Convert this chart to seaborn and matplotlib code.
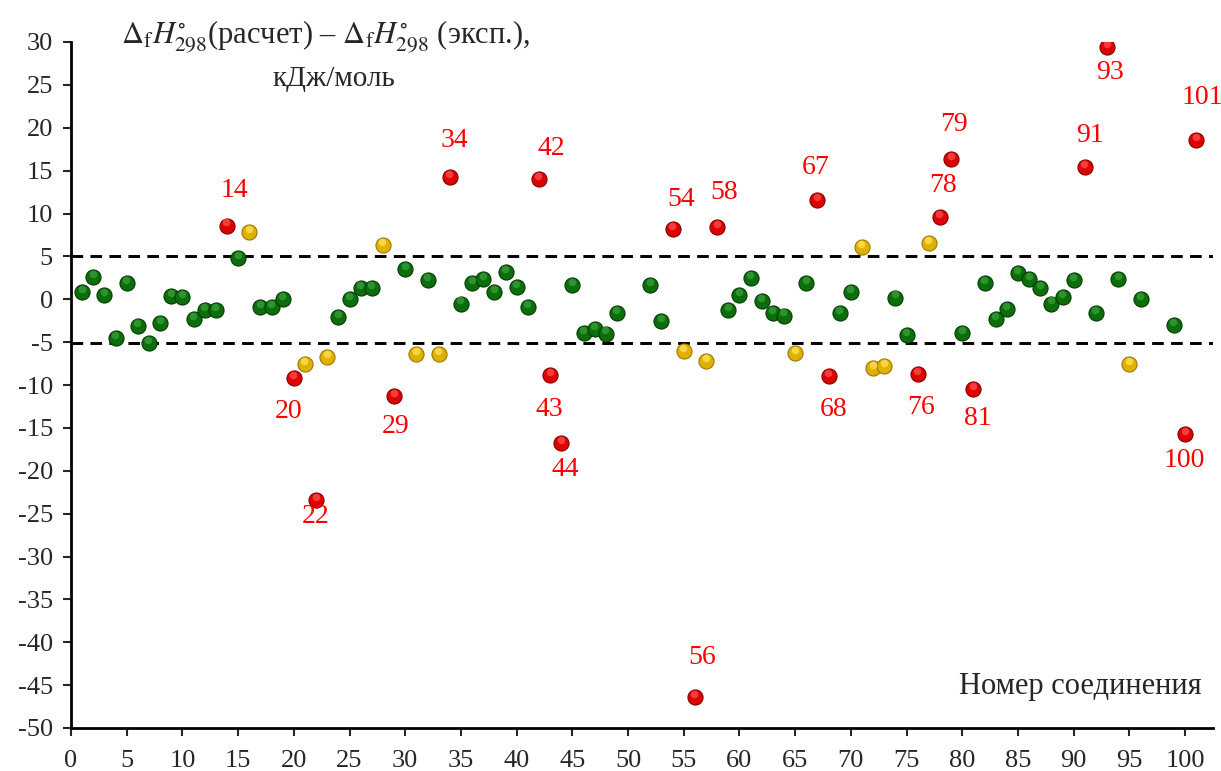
import numpy as np
import pandas as pd
import matplotlib.pyplot as plt
import matplotlib.transforms as mtransforms
import seaborn as sns

# номер соединения и отклонение расчёта от эксперимента, кДж/моль
compound = list(range(1, 50)) + list(range(52, 97)) + [99, 100, 101]
deviation = [
    0.8, 2.6, 0.5, -4.5, 1.9, -3.1, -5.1, -2.8, 0.4, 0.3,
    -2.3, -1.3, -1.3, 8.6, 4.8, 7.8, -0.9, -0.9, 0.0, -9.2,
    -7.5, -23.4, -6.7, -2.1, 0.0, 1.3, 1.3, 6.3, -11.3, 3.5,
    -6.4, 2.2, -6.4, 14.2, -0.5, 1.9, 2.4, 0.8, 3.2, 1.4,
    -0.9, 14.0, -8.8, -16.8, 1.7, -3.9, -3.5, -4.0, -1.6,
    1.7, -2.5, 8.2, -6.0, -46.4, -7.2, 8.4, -1.3, 0.5, 2.5,
    -0.2, -1.6, -1.9, -6.3, 1.9, 11.6, -8.9, -1.6, 0.8, 6.1,
    -8.0, -7.8, 0.2, -4.2, -8.7, 6.6, 9.6, 16.4, -3.9, -10.5,
    1.9, -2.3, -1.1, 3.1, 2.4, 1.3, -0.5, 0.3, 2.2, 15.4,
    -1.6, 29.4, 2.4, -7.5, 0.0,
    -3.0, -15.7, 18.6,
]
red_ids = [14, 20, 22, 29, 34, 42, 43, 44, 54, 56, 58, 67, 68, 76, 78, 79, 81, 91, 93, 100, 101]
yellow_ids = [16, 21, 23, 28, 31, 33, 55, 57, 65, 71, 72, 73, 77, 95]
yticks = list(range(-50, 31, 5))
xticks = list(range(0, 101, 5))

df = pd.DataFrame({'compound': compound, 'deviation': deviation})
df['group'] = np.where(df['compound'].isin(red_ids), 'red',
                       np.where(df['compound'].isin(yellow_ids), 'yellow', 'green'))

sns.set_style('white')
plt.rcParams['font.family'] = ['Liberation Serif', 'DejaVu Serif']
plt.rcParams['mathtext.fontset'] = 'stix'
plt.rcParams['axes.unicode_minus'] = False

fig = plt.figure(figsize=(12.21, 7.71), dpi=100)
ax = fig.add_axes([71 / 1221, 43 / 771, (1213 - 71) / 1221, (729 - 43) / 771])

base = {'green': '#0b6e0b', 'yellow': '#e0b000', 'red': '#dd0000'}
edge = {'green': '#053a05', 'yellow': '#9c7a00', 'red': '#850000'}
light = {'green': '#3aa03a', 'yellow': '#ffe35a', 'red': '#ff5050'}

for grp in ['green', 'yellow', 'red']:
    sub = df[df['group'] == grp]
    sns.scatterplot(data=sub, x='compound', y='deviation', color=base[grp], s=118,
                    edgecolor=edge[grp], linewidth=0.8, ax=ax, legend=False, zorder=3)
    # блик "шарика"
    shift = mtransforms.offset_copy(ax.transData, fig=fig, x=-0.4, y=2.2, units='points')
    ax.scatter(sub['compound'], sub['deviation'], s=30, color=light[grp], alpha=0.75,
               linewidth=0, transform=shift, zorder=4)

ax.axhline(5, color='black', linestyle=(0, (4, 2.5)), linewidth=2.1, zorder=2)
ax.axhline(-5.1, color='black', linestyle=(0, (4, 2.5)), linewidth=2.1, zorder=2)

# подписи выпадающих соединений: смещение в пикселях (dx, dy)
label_offsets = {
    14: (7, 35), 20: (-5, -33), 22: (0, -17), 29: (2, -30), 34: (5, 37),
    42: (12, 31), 43: (-1, -35), 44: (4, -26), 54: (8, 29), 56: (7, 40),
    58: (7, 35), 67: (-2, 32), 68: (5, -34), 76: (3, -34), 78: (3, 31),
    79: (3, 34), 81: (4, -29), 91: (5, 32), 93: (3, -25), 100: (-1, -27),
    101: (6, 42),
}
for _, row in df[df['group'] == 'red'].iterrows():
    dx, dy = label_offsets[int(row['compound'])]
    ax.annotate(str(int(row['compound'])), (row['compound'], row['deviation']),
                xytext=(dx * 0.72, dy * 0.72), textcoords='offset points',
                ha='center', va='center', color='red', fontsize=20, zorder=5)

ax.set_xlim(0, 102.5)
ax.set_ylim(-50, 30)
ax.set_xticks(xticks)
ax.set_yticks(yticks)
ax.tick_params(axis='both', labelsize=19, length=6, width=1.5, direction='out',
               bottom=True, left=True)
ax.tick_params(axis='x', pad=10)
ax.tick_params(axis='y', pad=7)
for s in ['top', 'right']:
    ax.spines[s].set_visible(False)
for s in ['left', 'bottom']:
    ax.spines[s].set_color('black')
    ax.spines[s].set_linewidth(2)
ax.set_xlabel('')
ax.set_ylabel('')

ax.text(0.223, 1.007,
        r'$\Delta_{\mathrm{f}}H^{\circ}_{298}$(расчет) – $\Delta_{\mathrm{f}}H^{\circ}_{298}$ (эксп.),',
        transform=ax.transAxes, ha='center', va='center', fontsize=22)
ax.text(0.230, 0.946, 'кДж/моль', transform=ax.transAxes, ha='center', va='center', fontsize=21)
ax.text(0.990, 0.06, 'Номер соединения', transform=ax.transAxes, ha='right', va='center',
        fontsize=22)

fig.savefig('out.png', dpi=100)
